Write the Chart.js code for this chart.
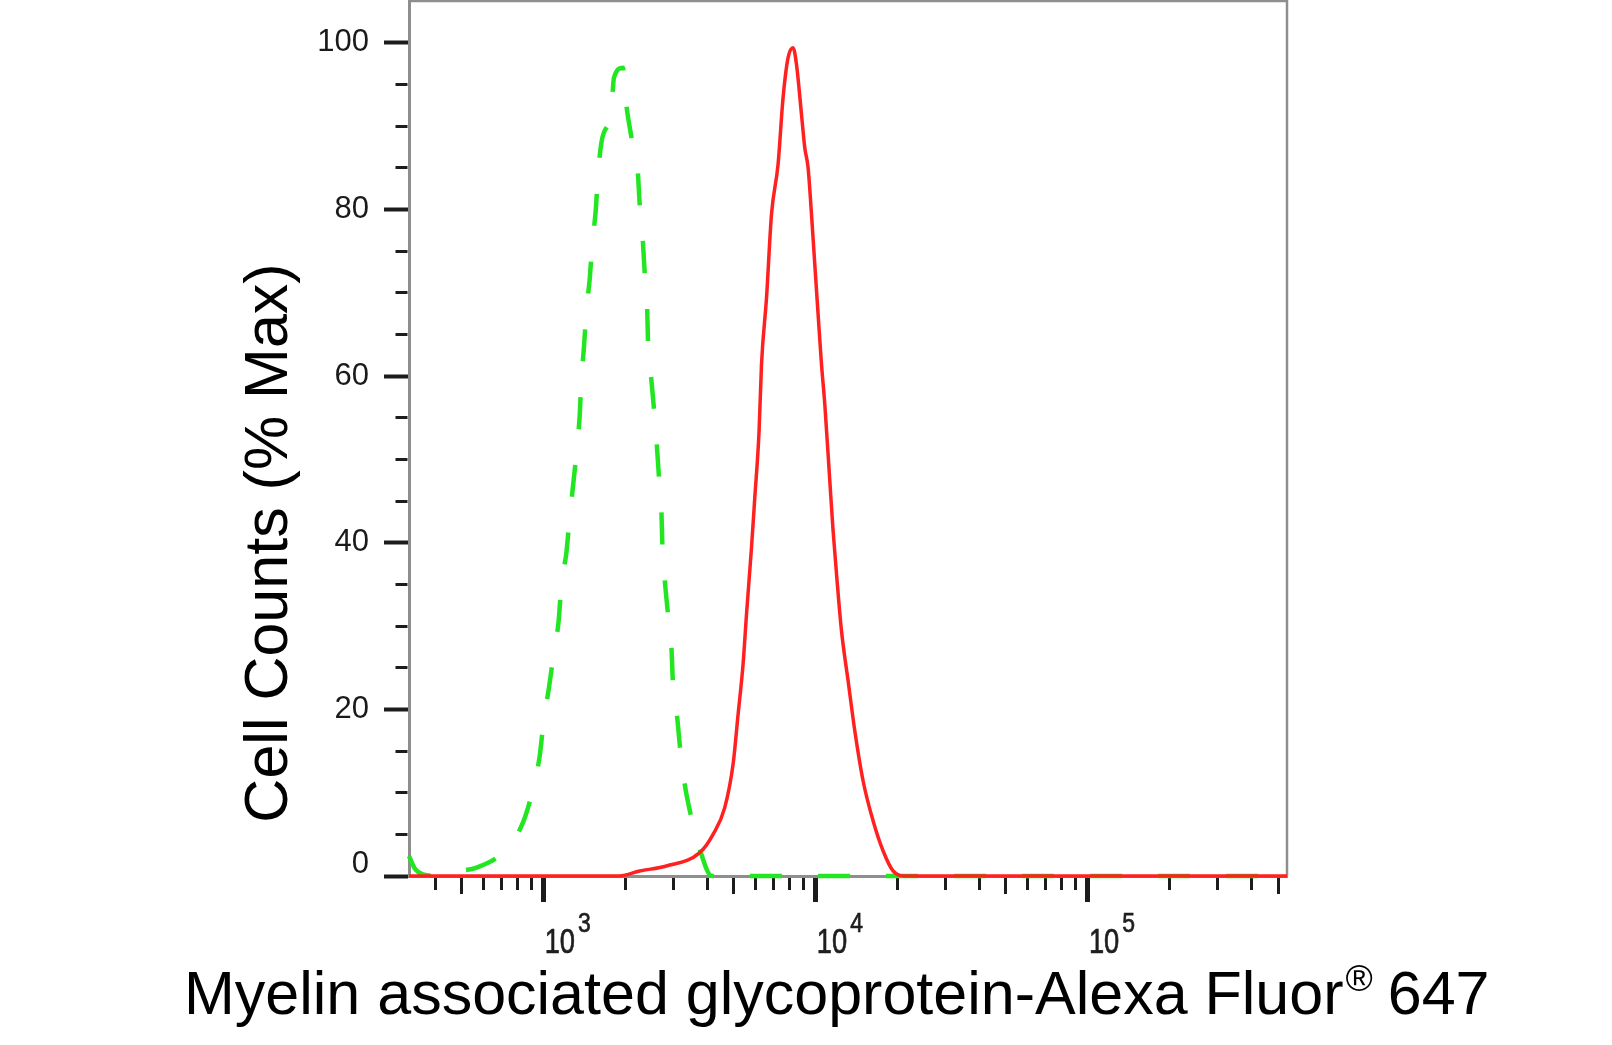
<!DOCTYPE html>
<html>
<head>
<meta charset="utf-8">
<script src="https://cdn.jsdelivr.net/npm/chart.js@4.4.1/dist/chart.umd.min.js"></script>
<style>
html,body{margin:0;padding:0;background:#fff;}
#wrap{width:1612px;height:1045px;position:relative;}
canvas{display:block;}
</style>
</head>
<body>
<div id="wrap"><canvas id="c" width="1612" height="1045"></canvas></div>
<script>
// ---- Data (fluorescence intensity vs % of max) ----
const antibodyX = [320, 1900, 2254, 2826, 3747, 4193, 4628, 4966, 5182, 5404, 5564, 5804, 5968, 6189, 6317, 6591, 6874, 7267, 7582, 7910, 8251, 8492, 8860, 9110, 9369, 9643, 9916, 10198, 10495, 10793, 11260, 11578, 11975, 12431, 13147, 13914, 14925, 16245, 17683, 19241, 21427, 539000];
const antibodyY = [0, 0, 0.6, 1.2, 2.8, 5.0, 8.2, 13.4, 19.4, 25.4, 31.4, 39.4, 45.4, 53.4, 61.4, 69.4, 79.4, 85.4, 93.4, 98.2, 99.4, 97.4, 91.4, 87.4, 85.0, 79.4, 73.4, 67.4, 61.4, 56.6, 47.4, 41.4, 35.4, 29.4, 23.4, 17.4, 11.4, 6.6, 3.0, 0.6, 0, 0];

const isotypeX = [320, 336, 360, 420, 459, 491, 567, 729, 839, 913, 967, 1000, 1046, 1088, 1135, 1162, 1212, 1246, 1282, 1326, 1356, 1376, 1406, 1435, 1476, 1510, 1553, 1584, 1630, 1774, 1813, 1957, 2002, 2101, 2211, 2254, 2307, 2351, 2398, 2418, 2474, 2544, 2596, 2654, 2708, 2731, 2785, 2864, 2948, 2988, 3091, 3181, 3299, 3491, 3747, 4146, 10000, 100000, 539000];
const isotypeY = [2.4, 0.9, 0.2, 0, 0.4, 0.6, 1.0, 3.2, 6.4, 10.4, 14.4, 18.6, 22.6, 26.6, 30.6, 35.0, 38.8, 43.0, 46.8, 51.4, 55.2, 59.6, 63.4, 67.8, 71.6, 76.0, 79.8, 84.2, 88.0, 92.0, 95.8, 97.0, 93.2, 88.7, 85.2, 80.6, 76.9, 72.4, 68.6, 64.2, 60.4, 56.0, 52.4, 47.8, 43.8, 39.6, 35.6, 31.4, 27.4, 23.0, 19.2, 15.0, 11.0, 7.0, 3.2, 0, 0, 0, 0];

// ---- Axes ----
const xMin = 320, xMax = 539000;
const yMin = 0, yMax = 105;
const yTickValues = [0,5,10,15,20,25,30,35,40,45,50,55,60,65,70,75,80,85,90,95,100];
const yLabelValues = [0, 20, 40, 60, 80, 100];
const yTickLabels = ['0', '20', '40', '60', '80', '100'];
const xTickValues = [400,500,600,700,800,900,1000,2000,3000,4000,5000,6000,7000,8000,9000,10000,20000,30000,40000,50000,60000,70000,80000,90000,100000,200000,300000,400000,500000];
const xMajorTicks = [1000, 10000, 100000];
const xMidTicks = [500, 5000, 50000, 500000];
const xTickBases = ['10', '10', '10'];
const xTickExponents = ['3', '4', '5'];
const xTitleParts = ['Myelin associated glycoprotein-Alexa Fluor', '\u00AE', ' 647'];
const yTitle = 'Cell Counts (% Max)';

const FONT = '"Liberation Sans", Arial, Helvetica, sans-serif';
const TICK_COLOR = '#1c1c1c';
const AXIS_COLOR = '#8e8e8e';

const toPoints = (xs, ys) => xs.map((x, i) => ({x: x, y: ys[i]}));

const framePlugin = {
  id: 'frame',
  beforeDatasetsDraw(chart) {
    const {ctx, chartArea: a} = chart;
    ctx.save();
    ctx.strokeStyle = AXIS_COLOR;
    ctx.lineWidth = 2.5;
    ctx.beginPath();
    ctx.moveTo(a.left, a.top);
    ctx.lineTo(a.right, a.top);
    ctx.lineTo(a.right, a.bottom);
    ctx.stroke();
    ctx.restore();
  }
};

const textPlugin = {
  id: 'texts',
  afterDraw(chart) {
    const {ctx, chartArea: a} = chart;
    const xs = chart.scales.x;
    ctx.save();
    ctx.fillStyle = '#1e1e1e';
    ctx.strokeStyle = '#1e1e1e';
    ctx.lineWidth = 0.7;
    ctx.textBaseline = 'alphabetic';
    ctx.textAlign = 'left';
    // x tick labels 10^n
    xMajorTicks.forEach((v, i) => {
      const px = xs.getPixelForValue(v);
      ctx.save();
      ctx.translate(px + 1, a.bottom + 77);
      ctx.scale(0.78, 1);
      ctx.font = '35px ' + FONT;
      ctx.fillText(xTickBases[i], 0, 0);
      ctx.strokeText(xTickBases[i], 0, 0);
      const w = ctx.measureText(xTickBases[i]).width;
      ctx.restore();
      ctx.save();
      ctx.translate(px + 1 + w * 0.78 + 3, a.bottom + 56);
      ctx.scale(0.85, 1);
      ctx.font = '27px ' + FONT;
      ctx.fillText(xTickExponents[i], 0, 0);
      ctx.strokeText(xTickExponents[i], 0, 0);
      ctx.restore();
    });
    // x title
    ctx.fillStyle = '#000';
    let x = a.left - 225;
    const base = a.bottom + 138;
    ctx.font = '61px ' + FONT;
    ctx.fillText(xTitleParts[0], x, base);
    x += ctx.measureText(xTitleParts[0]).width + 2;
    ctx.font = '37px ' + FONT;
    ctx.fillText(xTitleParts[1], x, base - 23);
    x += ctx.measureText(xTitleParts[1]).width - 2;
    ctx.font = '61px ' + FONT;
    ctx.fillText(xTitleParts[2], x, base);
    // y title
    ctx.save();
    ctx.translate(a.left - 122, a.bottom - 333);
    ctx.rotate(-Math.PI / 2);
    ctx.textAlign = 'center';
    ctx.font = '61px ' + FONT;
    ctx.fillText(yTitle, 0, 0);
    ctx.restore();
    ctx.restore();
  }
};

new Chart(document.getElementById('c'), {
  type: 'scatter',
  data: {
    datasets: [
      {
        label: 'Myelin associated glycoprotein',
        data: toPoints(antibodyX, antibodyY),
        showLine: true,
        borderColor: '#ff2020',
        borderWidth: 3.5,
        pointRadius: 0,
        cubicInterpolationMode: 'monotone',
        clip: 6,
        order: 0
      },
      {
        label: 'Isotype control',
        data: toPoints(isotypeX, isotypeY),
        showLine: true,
        borderColor: '#22e622',
        borderWidth: 4.5,
        borderDash: [32, 36],
        borderCapStyle: 'butt',
        pointRadius: 0,
        cubicInterpolationMode: 'monotone',
        clip: 6,
        order: 1
      }
    ]
  },
  options: {
    responsive: false,
    devicePixelRatio: 1,
    animation: false,
    events: [],
    layout: {padding: {left: 0, top: 1, right: 325, bottom: 0}},
    plugins: {legend: {display: false}, tooltip: {enabled: false}, title: {display: false}},
    scales: {
      x: {
        type: 'logarithmic',
        position: 'bottom',
        min: xMin,
        max: xMax,
        bounds: 'data',
        afterFit(scale) { scale.height = 169; scale.paddingLeft = 0; scale.paddingRight = 0; },
        afterBuildTicks(scale) {
          scale.ticks = xTickValues.map(v => ({value: v, major: xMajorTicks.includes(v)}));
        },
        border: {display: true, color: AXIS_COLOR, width: 3},
        grid: {
          drawOnChartArea: false,
          drawTicks: true,
          tickLength: 26,
          tickColor: TICK_COLOR,
          tickWidth: (c) => xMajorTicks.includes(c.tick && c.tick.value) ? 5 : 3,
          tickBorderDash: (c) => {
            const v = c.tick && c.tick.value;
            if (xMajorTicks.includes(v)) return [];
            if (xMidTicks.includes(v)) return [16, 60];
            return [12, 60];
          },
          tickBorderDashOffset: 0
        },
        ticks: {display: false, autoSkip: false}
      },
      y: {
        type: 'linear',
        position: 'left',
        min: yMin,
        max: yMax,
        afterFit(scale) { scale.width = 409; scale.paddingTop = 0; scale.paddingBottom = 0; },
        afterBuildTicks(scale) {
          scale.ticks = yTickValues.map(v => ({value: v}));
        },
        border: {display: true, color: AXIS_COLOR, width: 3},
        grid: {
          drawOnChartArea: false,
          drawTicks: true,
          tickLength: 25,
          tickColor: TICK_COLOR,
          tickWidth: (c) => (c.tick && yLabelValues.includes(c.tick.value)) ? 4 : 3,
          tickBorderDash: (c) => (c.tick && yLabelValues.includes(c.tick.value)) ? [] : [12, 11.5],
          tickBorderDashOffset: (c) => (c.tick && yLabelValues.includes(c.tick.value)) ? 0 : 12
        },
        ticks: {
          autoSkip: false,
          padding: 15,
          color: '#1a1a1a',
          font: {family: FONT, size: 31, lineHeight: 0.73},
          callback: (value) => {
            const i = yLabelValues.indexOf(value);
            if (i < 0) return '';
            return value === 0 ? [yTickLabels[i], ''] : yTickLabels[i];
          }
        }
      }
    }
  },
  plugins: [framePlugin, textPlugin]
});
</script>
</body>
</html>
